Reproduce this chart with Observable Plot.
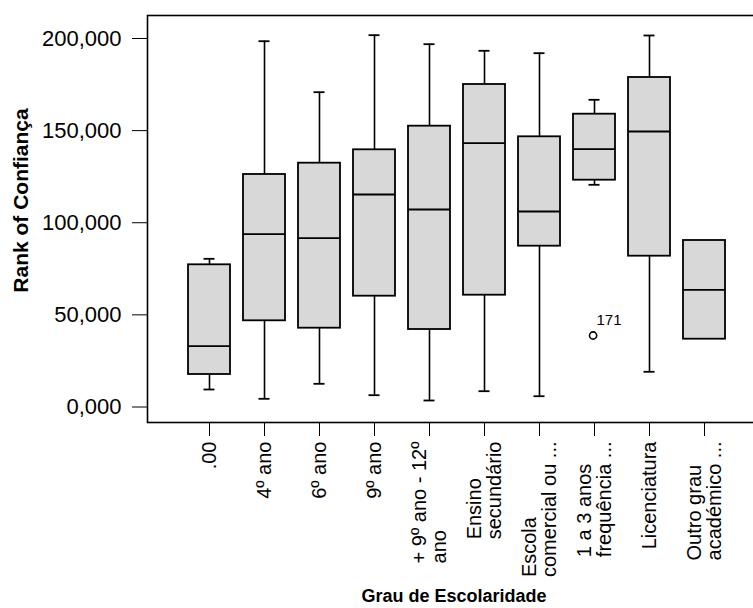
<!DOCTYPE html>
<html>
<head>
<meta charset="utf-8">
<script src="https://cdn.jsdelivr.net/npm/d3@7"></script>
<script src="https://cdn.jsdelivr.net/npm/@observablehq/plot@0.6"></script>
<style>
  html, body { margin: 0; padding: 0; background: #fff; overflow: hidden; }
  #chart svg { display: block; }
</style>
</head>
<body>
<div id="chart"></div>
<script>
// Categories (x axis) — line breaks as in the reference labels
const categories = [
  ".00",
  "4º ano",
  "6º ano",
  "9º ano",
  "+ 9º ano - 12º\nano",
  "Ensino\nsecundário",
  "Escola\ncomercial ou ...",
  "1 a 3 anos\nfrequência ...",
  "Licenciatura",
  "Outro grau\nacadémico ..."
];
// Box-plot statistics (Rank of Confiança)
const whiskerLow  = [7.87,  2.82,  10.96, 4.78,   1.90,   6.95,   4.23,   118.97, 17.48,  35.17];
const q1          = [16.01, 45.15, 41.14, 58.51,  40.43,  59.05,  85.65,  121.47, 80.22,  35.17];
const median      = [31.37, 92.16, 90.00, 113.70, 105.56, 141.55, 104.48, 138.29, 147.90, 61.98];
const q3          = [75.55, 124.56,130.70,137.96, 150.78, 173.40, 145.02, 157.29, 177.20, 88.74];
const whiskerHigh = [78.80, 196.90,169.23,200.17, 195.28, 191.70, 190.40, 165.10, 200.00, 88.74];
// Outlier
const outlierCategory = ["1 a 3 anos\nfrequência ..."];
const outlierValue = [37.18];
const outlierLabel = ["171"];
// Y ticks
const yTicks = [0, 50, 100, 150, 200];

const boxes = categories.map((c, i) => ({
  cat: c, lo: whiskerLow[i], q1: q1[i], med: median[i], q3: q3[i], hi: whiskerHigh[i]
}));
const outliers = outlierCategory.map((c, i) => ({cat: c, v: outlierValue[i], label: outlierLabel[i]}));

const fmt = d3.formatLocale({decimal: ",", thousands: ".", grouping: [3], currency: ["", ""]}).format(".3f");
const font = "Liberation Sans, Arial, Helvetica, sans-serif";

const chart = Plot.plot({
  width: 753,
  height: 608,
  marginTop: 15,
  marginBottom: 186,
  marginLeft: 147,
  marginRight: -7,
  style: {fontFamily: font, background: "white", overflow: "hidden", color: "#000"},
  x: {type: "band", domain: categories, range: [180.7, 732.7], paddingInner: 0.24, paddingOuter: 0.12, align: 0.5},
  y: {domain: [-10.04, 210.85]},
  marks: [
    Plot.ruleX(boxes.filter(d => d.hi > d.q3), {x: "cat", y1: "q3", y2: "hi", stroke: "#000", strokeWidth: 1.6}),
    Plot.ruleX(boxes.filter(d => d.lo < d.q1), {x: "cat", y1: "lo", y2: "q1", stroke: "#000", strokeWidth: 1.6}),
    Plot.tickY(boxes.filter(d => d.hi > d.q3), {x: "cat", y: "hi", stroke: "#000", strokeWidth: 1.8, insetLeft: 15.5, insetRight: 15.5}),
    Plot.tickY(boxes.filter(d => d.lo < d.q1), {x: "cat", y: "lo", stroke: "#000", strokeWidth: 1.8, insetLeft: 15.5, insetRight: 15.5}),
    Plot.barY(boxes, {x: "cat", y1: "q1", y2: "q3", fill: "#d8d8d8", stroke: "#000", strokeWidth: 1.8}),
    Plot.tickY(boxes, {x: "cat", y: "med", stroke: "#000", strokeWidth: 1.8}),
    Plot.dot(outliers, {x: "cat", y: "v", r: 3.6, stroke: "#000", strokeWidth: 1.6, fill: "white", dx: -1.4}),
    Plot.text(outliers, {x: "cat", y: "v", text: "label", fontSize: 15, textAnchor: "start", dx: 2, dy: -15, fill: "#000"}),
    Plot.axisY({ticks: yTicks, tickFormat: fmt, tickSize: 15, tickPadding: 11, fontSize: 22, label: null, dy: 3}),
    Plot.axisX({tickRotate: -90, tickSize: 14, tickPadding: 5, fontSize: 20, lineHeight: 1.02, label: null}),
    Plot.text(["Rank of Confiança"], {frameAnchor: "left", textAnchor: "middle", lineAnchor: "middle", rotate: -90, dx: -126.5, dy: -18.5, fontSize: 21, fontWeight: "bold", fill: "#000"}),
    Plot.text(["Grau de Escolaridade"], {frameAnchor: "bottom", textAnchor: "middle", lineAnchor: "middle", dy: 174, fontSize: 18, fontWeight: "bold", fill: "#000"}),
    Plot.frame({stroke: "#000", strokeWidth: 1.6})
  ]
});

document.getElementById("chart").append(chart);

// Multi-line x tick labels: lines share their start (bottom) edge, longest line reaches the tick
chart.querySelectorAll('g[aria-label="x-axis tick label"] text').forEach(t => {
  const spans = t.querySelectorAll("tspan");
  if (spans.length < 2) return;
  const L = Math.max(...Array.from(spans, s => s.getComputedTextLength()));
  t.setAttribute("text-anchor", "start");
  spans.forEach(s => s.setAttribute("x", -L));
});
</script>
</body>
</html>
